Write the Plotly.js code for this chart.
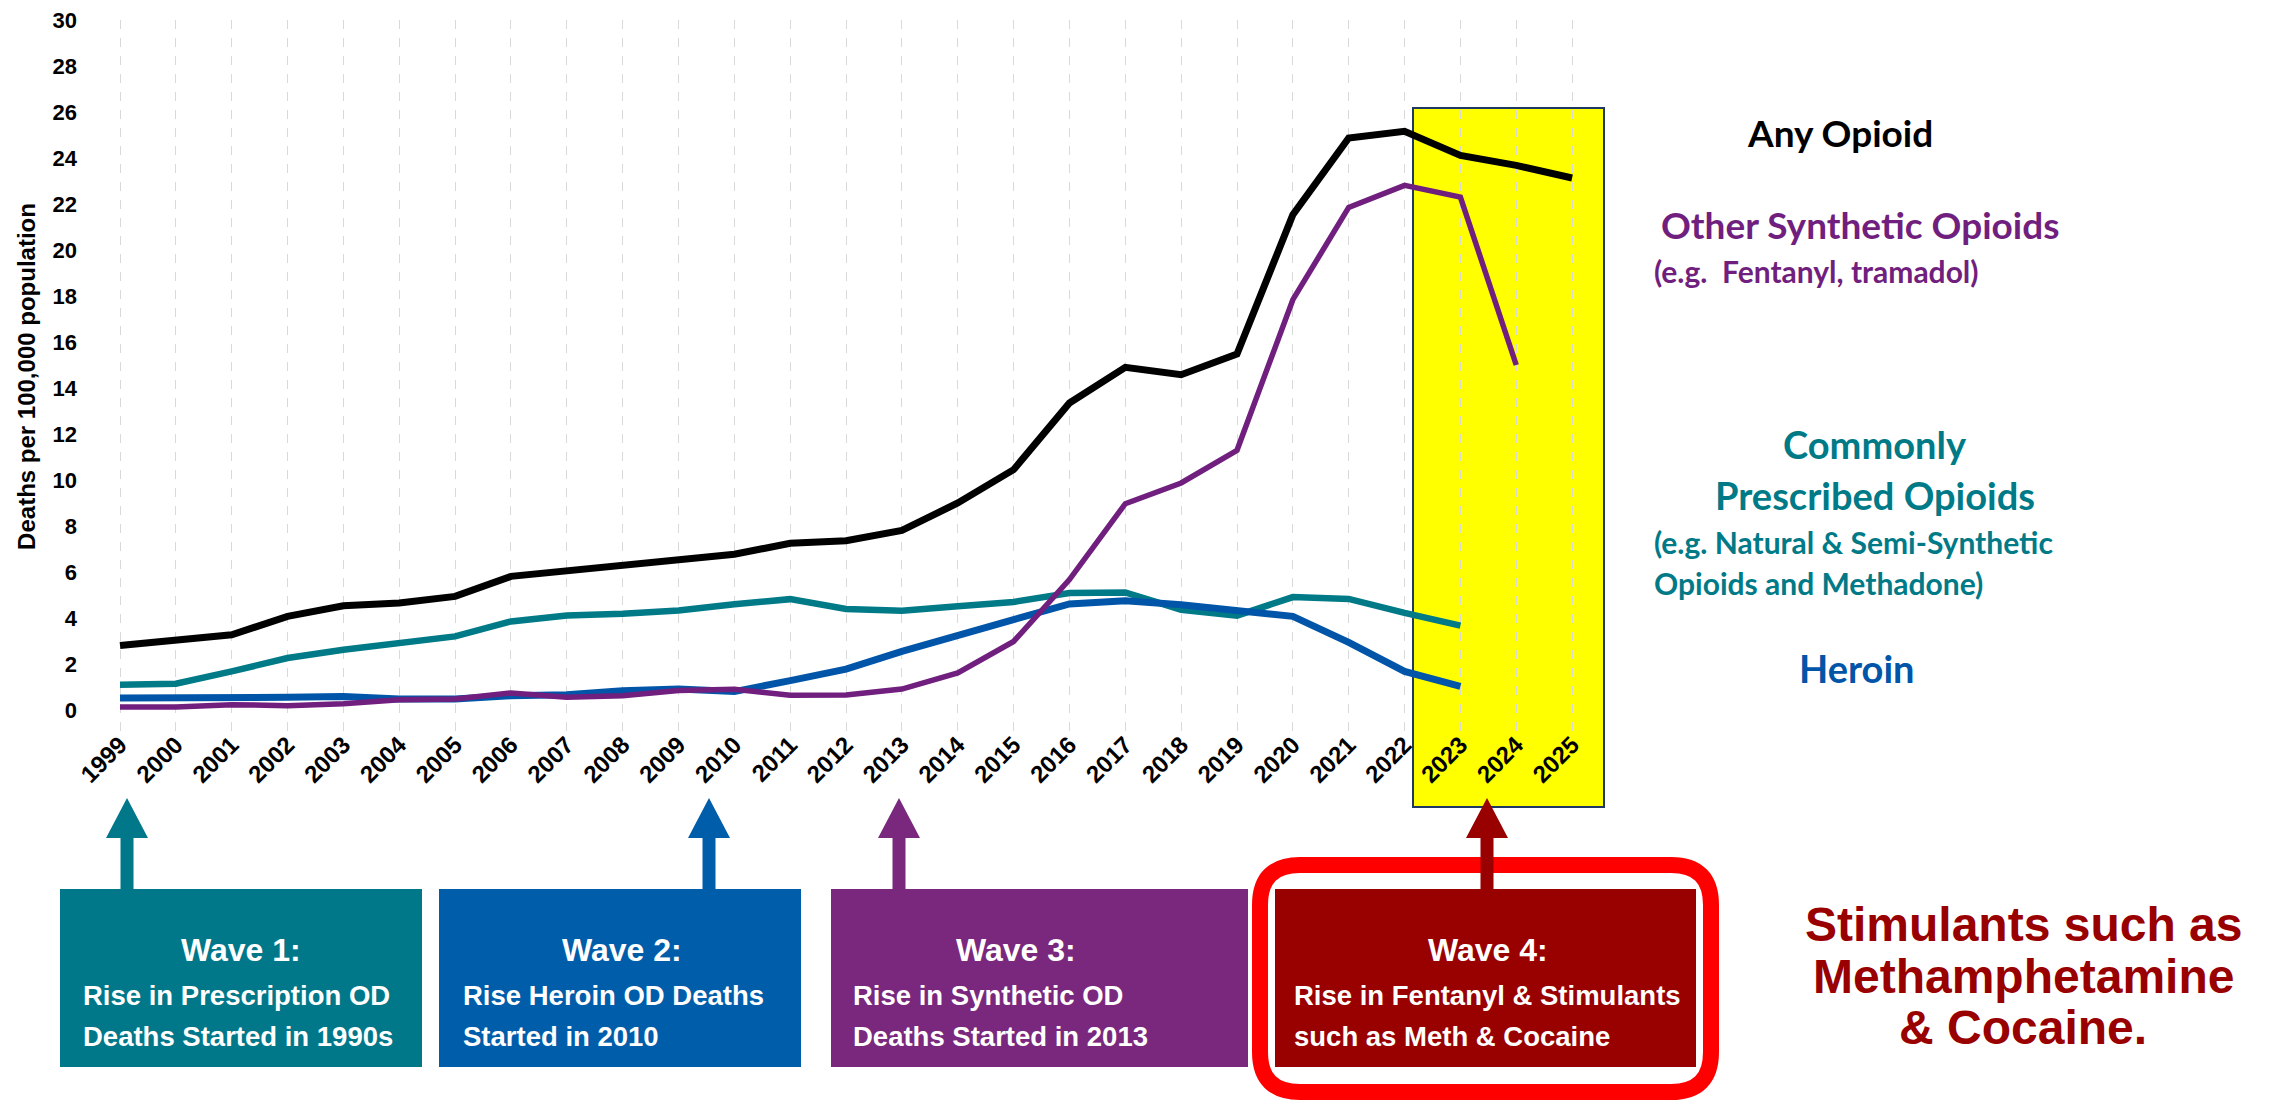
<!DOCTYPE html>
<html><head><meta charset="utf-8">
<script src="https://cdn.plot.ly/plotly-3.0.1.min.js"></script>
<style>html,body{margin:0;padding:0;background:#fff}#chart{width:2271px;height:1100px}</style>
</head><body><div id="chart"></div>
<script>
// ---------- data ----------
const years = [1999,2000,2001,2002,2003,2004,2005,2006,2007,2008,2009,2010,2011,2012,2013,2014,2015,2016,2017,2018,2019,2020,2021,2022,2023,2024,2025];
const yearLabels = years.map(String);
const anyOpioid = [2.80,3.03,3.27,4.07,4.53,4.65,4.94,5.81,6.06,6.32,6.56,6.77,7.25,7.36,7.81,9.00,10.45,13.35,14.90,14.58,15.48,21.53,24.87,25.16,24.11,23.68,23.13];
const commonlyPrescribed = [1.10,1.14,1.68,2.26,2.62,2.94,3.20,3.85,4.11,4.19,4.33,4.60,4.82,4.39,4.32,4.51,4.70,5.09,5.11,4.36,4.10,4.91,4.83,4.22,3.67,null,null];
const heroin = [0.52,0.52,0.48,0.55,0.59,0.48,0.48,0.62,0.66,0.84,0.91,0.80,1.28,1.78,2.55,3.27,3.93,4.61,4.75,4.58,4.33,4.07,2.94,1.68,1.03,null,null];
const otherSynthetic = [0.13,0.13,0.23,0.19,0.27,0.45,0.48,0.74,0.55,0.62,0.85,0.90,0.64,0.65,0.91,1.61,2.98,5.67,8.97,9.87,11.29,17.84,21.85,22.81,22.30,15.00,null];
const yTickVals = [0,2,4,6,8,10,12,14,16,18,20,22,24,26,28,30];

const waveTitles = ['Wave 1:','Wave 2:','Wave 3:','Wave 4:'];
const waveLine1 = ['Rise in Prescription OD','Rise Heroin OD Deaths','Rise in Synthetic OD','Rise in Fentanyl &amp; Stimulants'];
const waveLine2 = ['Deaths Started in 1990s','Started in 2010','Deaths Started in 2013','such as Meth &amp; Cocaine'];

// ---------- geometry (page pixels) ----------
const W = 2271, H = 1100;
const M = {l: 90, r: 0, t: 20, b: 367};
const plotW = W - M.l - M.r, plotH = H - M.t - M.b;
const fx = X => (X - M.l) / plotW;
const fy = Y => (H - M.b - Y) / plotH;
const yearPx = 55.85, firstYearX = 120;
const xr0 = years[0] - (firstYearX - M.l) / yearPx;
const xRange = [xr0, xr0 + plotW / yearPx];

const C = {black:'#000000', teal:'#007A87', blue:'#0055A8', purple:'#711F7E', red:'#990000'};
const waveColors = ['#00788A','#005DAA','#79287D','#990000'];
const waveBoxes = [[60,422],[439,801],[831,1248],[1275,1696]];
const waveTitleX = [241,622,1016,1488];
const waveTextX = [81,461,851,1292];
const waveArrowX = [127,709,899,1487];

const ARIAL = 'Liberation Sans, Arial, sans-serif';
const NARROW = 'Liberation Sans Narrow, Arial Narrow, Liberation Sans, sans-serif';
const CAL = 'Lato, Carlito, Calibri, sans-serif';

function lineTrace(name, y, color, width){
  return {type:'scatter', mode:'lines', name, x: years, y, connectgaps:false,
          line:{color, width}, hoverinfo:'skip'};
}
const traces = [
  lineTrace('Commonly Prescribed Opioids', commonlyPrescribed, C.teal, 6.5),
  lineTrace('Heroin', heroin, C.blue, 7),
  lineTrace('Other Synthetic Opioids', otherSynthetic, C.purple, 5.5),
  lineTrace('Any Opioid', anyOpioid, C.black, 7)
];

function txt(text, X, Y, size, color, family, xanchor){
  return {xref:'paper', yref:'paper', x: fx(X), y: fy(Y), text, showarrow:false,
          xanchor: xanchor || 'center', yanchor:'middle', align: xanchor === 'left' ? 'left' : 'center',
          font:{family, size, color, weight:700}};
}

const shapes = [];
const annotations = [];

// yellow highlight box (behind gridlines and lines)
shapes.push({type:'rect', xref:'paper', yref:'paper', layer:'below',
  x0: fx(1413), x1: fx(1604), y0: fy(807), y1: fy(108),
  fillcolor:'#FFFF00', line:{color:'#203864', width:2}});

// wave boxes
waveBoxes.forEach((b, i) => {
  shapes.push({type:'rect', xref:'paper', yref:'paper', layer:'above',
    x0: fx(b[0]), x1: fx(b[1]), y0: fy(1067), y1: fy(889),
    fillcolor: waveColors[i], line:{width:0}});
  annotations.push(txt(waveTitles[i], waveTitleX[i], 950, 32, '#FFFFFF', NARROW, 'center'));
  annotations.push(txt(waveLine1[i], waveTextX[i], 995, 27.5, '#FFFFFF', NARROW, 'left'));
  annotations.push(txt(waveLine2[i], waveTextX[i], 1036, 27.5, '#FFFFFF', NARROW, 'left'));
});

// red rounded outline around wave 4
(function(){
  const x0 = fx(1260), x1 = fx(1711), yT = fy(865), yB = fy(1092);
  const rx = 40 / plotW, ry = 40 / plotH;
  const p = `M ${x0+rx},${yT} L ${x1-rx},${yT} Q ${x1},${yT} ${x1},${yT-ry} L ${x1},${yB+ry} Q ${x1},${yB} ${x1-rx},${yB} L ${x0+rx},${yB} Q ${x0},${yB} ${x0},${yB+ry} L ${x0},${yT-ry} Q ${x0},${yT} ${x0+rx},${yT} Z`;
  shapes.push({type:'path', xref:'paper', yref:'paper', layer:'above', path:p,
    line:{color:'#FF0000', width:16}, fillcolor:'rgba(0,0,0,0)'});
})();

// arrows
waveArrowX.forEach((cx, i) => {
  const tip = fy(798), base = fy(838), bot = fy(889);
  const hw = 21 / plotW, sw = 6.5 / plotW, c = fx(cx);
  const p = `M ${c},${tip} L ${c+hw},${base} L ${c+sw},${base} L ${c+sw},${bot} L ${c-sw},${bot} L ${c-sw},${base} L ${c-hw},${base} Z`;
  shapes.push({type:'path', xref:'paper', yref:'paper', layer:'above', path:p,
    fillcolor: waveColors[i], line:{width:0}});
});

// series labels at right
annotations.push(txt('Any Opioid', 1840, 132, 37, C.black, CAL, 'center'));
annotations.push(txt('Other Synthetic Opioids', 1860, 224, 37, C.purple, CAL, 'center'));
annotations.push(txt('(e.g.&nbsp; Fentanyl, tramadol)', 1652, 271, 30, C.purple, CAL, 'left'));
annotations.push(txt('Commonly', 1875, 444, 38, C.teal, CAL, 'center'));
annotations.push(txt('Prescribed Opioids', 1875, 495, 38, C.teal, CAL, 'center'));
annotations.push(txt('(e.g. Natural &amp; Semi-Synthetic', 1652, 542, 30, C.teal, CAL, 'left'));
annotations.push(txt('Opioids and Methadone)', 1652, 583, 30, C.teal, CAL, 'left'));
annotations.push(txt('Heroin', 1857, 668, 38, C.blue, CAL, 'center'));

annotations.push(txt('Stimulants such as', 2023, 924, 48, C.red, ARIAL, 'center'));
annotations.push(txt('Methamphetamine', 2023, 976, 48, C.red, ARIAL, 'center'));
annotations.push(txt('&amp; Cocaine.', 2023, 1027, 48, C.red, ARIAL, 'center'));

const layout = {
  width: W, height: H,
  margin: M,
  paper_bgcolor:'#FFFFFF', plot_bgcolor:'rgba(0,0,0,0)',
  showlegend:false,
  xaxis:{range: xRange, tickmode:'array', tickvals: years, ticktext: yearLabels, tickangle:-45,
    tickfont:{family: ARIAL, size:24, color:'#000', weight:700}, ticklabelstandoff: -8,
    showgrid:true, gridcolor:'#D9D9D9', gridwidth:1, griddash:'dash',
    zeroline:false, showline:false, ticks:'', automargin:false, fixedrange:true},
  yaxis:{range:[-1,30], tickmode:'array', tickvals: yTickVals,
    tickfont:{family: ARIAL, size:22, color:'#000', weight:700},
    showgrid:false, zeroline:false, showline:false, ticks:'', ticklabelstandoff: 12,
    automargin:false, fixedrange:true,
    title:{text:'Deaths per 100,000 population', standoff: 10,
      font:{family: ARIAL, size:24, color:'#000', weight:700}}},
  shapes, annotations
};

Plotly.newPlot('chart', traces, layout, {staticPlot:true, displayModeBar:false});
</script>
</body></html>
